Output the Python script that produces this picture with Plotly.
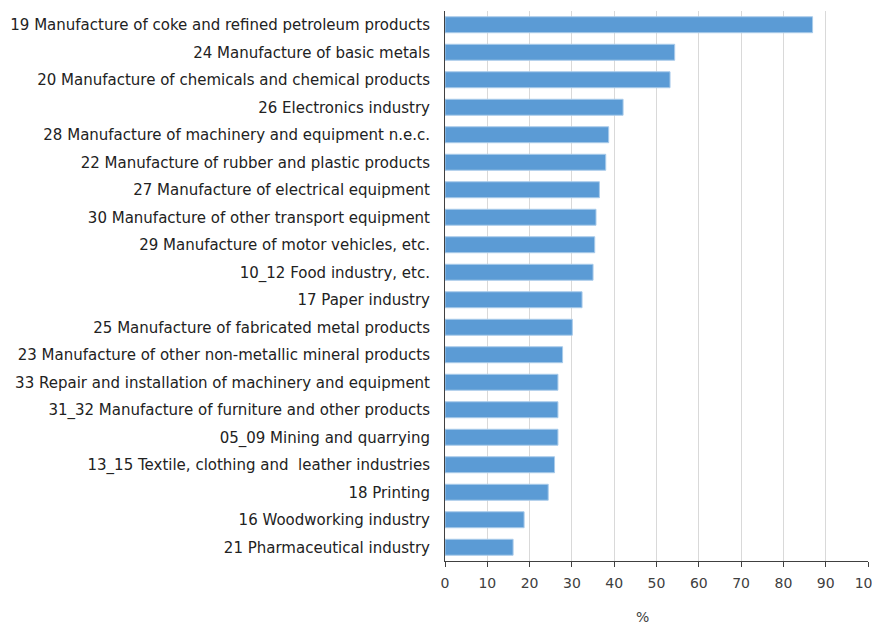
import plotly.graph_objects as go

categories = [
    "19 Manufacture of coke and refined petroleum products",
    "24 Manufacture of basic metals",
    "20 Manufacture of chemicals and chemical products",
    "26 Electronics industry",
    "28 Manufacture of machinery and equipment n.e.c.",
    "22 Manufacture of rubber and plastic products",
    "27 Manufacture of electrical equipment",
    "30 Manufacture of other transport equipment",
    "29 Manufacture of motor vehicles, etc.",
    "10_12 Food industry, etc.",
    "17 Paper industry",
    "25 Manufacture of fabricated metal products",
    "23 Manufacture of other non-metallic mineral products",
    "33 Repair and installation of machinery and equipment",
    "31_32 Manufacture of furniture and other products",
    "05_09 Mining and quarrying",
    "13_15 Textile, clothing and  leather industries",
    "18 Printing",
    "16 Woodworking industry",
    "21 Pharmaceutical industry",
]
values = [86.9, 54.3, 53.2, 42.1, 38.7, 38.0, 36.5, 35.7, 35.4, 35.0,
          32.4, 30.1, 27.8, 26.7, 26.7, 26.7, 25.9, 24.4, 18.7, 16.1]
x_ticks = list(range(0, 101, 10))
x_title = "%"

fig = go.Figure(go.Bar(
    x=values,
    y=categories,
    orientation="h",
    marker=dict(color="#5B9BD5", line=dict(color="#A9CBEA", width=1)),
    width=0.58,
))

fig.update_layout(
    width=872, height=618,
    margin=dict(l=437, r=12, t=3, b=65, autoexpand=False),
    paper_bgcolor="white", plot_bgcolor="white",
    font=dict(family="DejaVu Sans, Verdana, sans-serif", size=15, color="#222222"),
    showlegend=False,
    xaxis=dict(
        range=[0, 100], tickvals=x_ticks, showgrid=True, gridcolor="#D9D9D9", gridwidth=1,
        zeroline=False, showline=True, linecolor="#404040", linewidth=1,
        ticks="outside", ticklen=5, tickcolor="#404040", automargin=False,
        ticklabelstandoff=4, ticklabeloverflow="allow",
        tickfont=dict(family="DejaVu Sans, Verdana, sans-serif", size=14, color="#404040"),
    ),
    yaxis=dict(
        categoryorder="array", categoryarray=categories[::-1],
        showgrid=False, showline=True, linecolor="#404040", linewidth=1,
        ticks="", ticklabelstandoff=11, automargin=False,
        tickfont=dict(size=15, color="#222222"),
    ),
    annotations=[dict(text=x_title, x=0.466, y=-0.102, xref="paper", yref="paper",
                      showarrow=False, font=dict(size=14, color="#404040"),
                      xanchor="center", yanchor="middle")],
)

fig.write_html("out.html")
